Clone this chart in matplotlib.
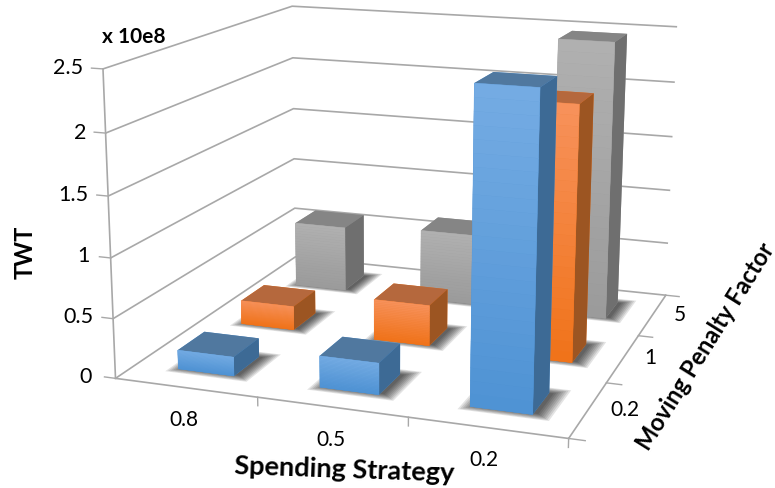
#!/usr/bin/env python3
"""3D bars of TWT by spending strategy and moving penalty factor."""

import matplotlib

matplotlib.use("Agg")
import matplotlib.pyplot as plt
import numpy as np
from matplotlib.colors import to_rgb
from mpl_toolkits.mplot3d.art3d import Poly3DCollection

strategies = ["0.8", "0.5", "0.2"]
penalties = ["0.2", "1", "5"]
# one list per penalty factor, in strategy order (units of 1e8)
twt_low = [0.16, 0.26, 2.51]
twt_mid = [0.21, 0.355, 2.16]
twt_high = [0.60, 0.645, 2.47]
series = [twt_low, twt_mid, twt_high]
z_ticks = [0, 0.5, 1, 1.5, 2, 2.5]
z_labels = ["0", "0.5", "1", "1.5", "2", "2.5"]

# front face top, front face bottom, top face, right face
bar_colors = [
    ("#74abe3", "#4f93d4", "#50789f", "#3d6a95"),
    ("#f7915a", "#f0731a", "#b5683d", "#9c5522"),
    ("#b0b0b0", "#9b9b9b", "#858585", "#6f6f6f"),
]
line_color = "#a8a8a8"
bar_start = 0.3
bar_width = 0.4


def floor_rect(x0, x1, y0, y1):
    return [[(x0, y0, 0), (x1, y0, 0), (x1, y1, 0), (x0, y1, 0)]]


def draw_shadow(ax, x, y):
    for grow in np.linspace(0.09, 0.0, 8):
        poly = Poly3DCollection(
            floor_rect(x - grow + 0.03, x + bar_width + grow + 0.03, y - grow + 0.02, y + bar_width + grow),
            facecolors=(0, 0, 0, 0.11), edgecolors="none", zorder=5,
        )
        ax.add_collection3d(poly, autolim=False)


def draw_bar(ax, x, y, height, colors, zorder):
    front_top, front_bottom, top, right = colors
    # bar3d face order: bottom, top, front, back, left, right
    ax.bar3d(x, y, 0, bar_width, bar_width, height,
             color=[front_bottom, top, front_bottom, front_bottom, front_bottom, right],
             shade=False, zorder=zorder)
    # lighter towards the top of the front face
    levels = np.linspace(0, height, 25)
    verts = [[(x, y, a), (x + bar_width, y, a), (x + bar_width, y, b), (x, y, b)]
             for a, b in zip(levels[:-1], levels[1:])]
    mix = np.linspace(0, 1, len(verts))[:, None]
    shades = np.array(to_rgb(front_bottom)) * (1 - mix) + np.array(to_rgb(front_top)) * mix
    poly = Poly3DCollection(verts, facecolors=shades, edgecolors=shades, linewidths=0.3, zorder=zorder + 0.5)
    ax.add_collection3d(poly, autolim=False)


def px_text(x, y, label, **kwargs):
    fig.text(x / 775, 1 - y / 488, label, **kwargs)


plt.rcParams["font.family"] = "Lato"

fig = plt.figure(figsize=(7.75, 4.88), dpi=100)
ax = fig.add_axes([69.3 / 775, -47.3 / 488, 666.6 / 775, 666.6 / 488], projection="3d", computed_zorder=False)
ax.set_proj_type("persp", focal_length=0.477)
ax.view_init(elev=14.14, azim=-70.895, roll=-0.233)
ax.set_box_aspect((1.485, 1.471, 1.0))

ax.set_xlim(0, 3, view_margin=0)
ax.set_ylim(0, 3, view_margin=0)
ax.set_zlim(0, 2.5, view_margin=0)

for axis in (ax.xaxis, ax.yaxis, ax.zaxis):
    axis.set_pane_color((1, 1, 1, 0))
    axis.pane.set_edgecolor("none")
    axis._axinfo["grid"].update(color=line_color, linewidth=1.2)
    axis._axinfo["tick"].update(inward_factor=0, outward_factor=0)
    axis.line.set_color("none")

ax.set_xticks([])
ax.set_yticks([])
ax.set_zticks(z_ticks)
ax.set_zticklabels([])
ax.grid(True)

# outer frame lines and tick marks
ax.plot([0, 3], [0, 0], [0, 0], color=line_color, lw=1.2, zorder=2)
ax.plot([3, 3], [0, 3], [0, 0], color=line_color, lw=1.2, zorder=2)
ax.plot([0, 0], [0, 0], [0, 2.5], color=line_color, lw=1.2, zorder=2)
for v in range(1, 4):
    ax.plot([v, v], [0, 0], [0, -0.07], color=line_color, lw=1.0, zorder=2)
for v in range(0, 4):
    ax.plot([3, 3.1], [v, v], [0, 0], color=line_color, lw=1.0, zorder=2)
for z in z_ticks:
    ax.plot([0, -0.08], [0, 0], [z, z], color=line_color, lw=1.0, zorder=2)

for j in range(3):
    for i in range(3):
        draw_shadow(ax, i + bar_start, j + bar_start)

order = 10
for j in range(2, -1, -1):
    for i, value in enumerate(series[j]):
        draw_bar(ax, i + bar_start, j + bar_start, value, bar_colors[j], order)
        order += 1

for label, x, y in zip(z_labels, [92, 93, 90, 88, 86, 83], [377, 317, 256, 195, 133, 68]):
    px_text(x, y, label, fontsize=15.5, ha="right", va="center")
for label, x, y in zip(strategies, [184, 331, 484], [420, 440, 460]):
    px_text(x, y, label, fontsize=15, ha="center", va="center")
for label, x, y in zip(penalties, [625, 650, 680], [410, 358, 315]):
    px_text(x, y, label, fontsize=15, ha="center", va="center")

px_text(102, 37, "x 10e8", fontsize=15, fontweight="bold", ha="left", va="center")
px_text(25, 252, "TWT", fontsize=17, fontweight="bold", rotation=90, ha="center", va="center")
px_text(344, 470, "Spending Strategy", fontsize=19.5, fontweight="bold", rotation=-2, ha="center", va="center")
px_text(706, 347, "Moving Penalty Factor", fontsize=17, fontweight="bold", rotation=58, ha="center", va="center")

fig.savefig("out.png", dpi=100)
